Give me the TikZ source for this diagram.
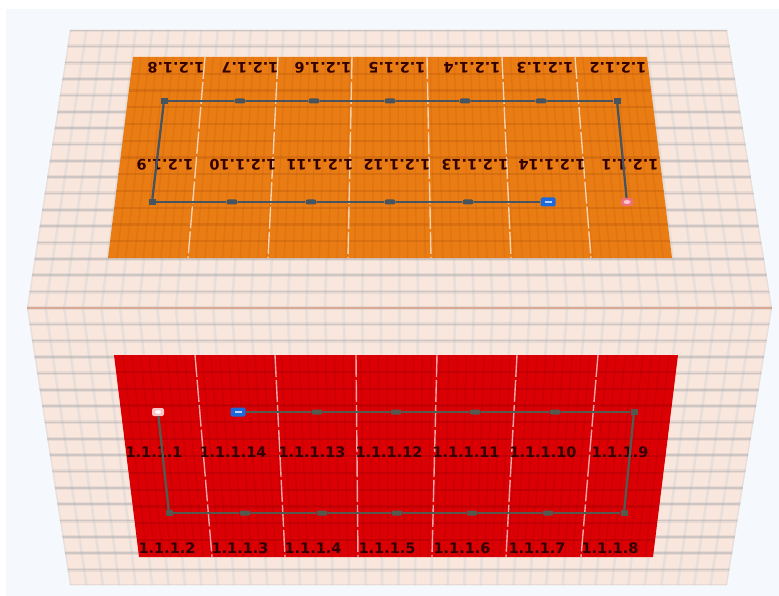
\documentclass[tikz,border=0pt]{standalone}
\usepackage{fontspec}
\setmainfont{DejaVu Sans}
\usepackage{tikz}
\usetikzlibrary{calc}
\definecolor{pagetint}{RGB}{245,249,253}
\definecolor{skin}{RGB}{249,231,222}
\definecolor{skinline}{RGB}{176,174,176}
\definecolor{skinrib}{RGB}{232,222,218}
\definecolor{seam}{RGB}{216,170,150}
\definecolor{panelo}{RGB}{234,124,20}
\definecolor{panelodark}{RGB}{190,92,12}
\definecolor{panelr}{RGB}{218,0,4}
\definecolor{panelrdark}{RGB}{150,0,4}
\definecolor{routeo}{RGB}{70,84,96}
\definecolor{router}{RGB}{84,90,80}
\definecolor{endblue}{RGB}{26,106,222}
\definecolor{endpink}{RGB}{240,110,120}
\tikzset{
  wpoint/.style={fill=#1, inner sep=0pt, minimum width=11pt, minimum height=5pt, rounded corners=2pt},
  wcorner/.style={fill=#1, inner sep=0pt, minimum width=7pt, minimum height=6pt},
  wend/.style={fill=endblue, inner sep=0pt, minimum width=15pt, minimum height=9pt, rounded corners=1.5pt},
  wstart/.style={fill=#1, inner sep=0pt, minimum width=12pt, minimum height=8pt, rounded corners=2pt},
  wlabel/.style={font=\fontsize{14.5}{16}\selectfont\bfseries, text=black!80!red, inner sep=0pt, text height=10.5pt, text depth=0pt}
}

\begin{document}
\begin{tikzpicture}[x=1pt,y=-1pt]
\useasboundingbox (0,0) rectangle (779,596);
\fill[white] (0,0) rectangle (779,596);
\fill[pagetint] (6,9) rectangle (779,596);

\begin{scope}
\clip (70,30) -- (727,30) -- (772,308) -- (727,585) -- (70,585) -- (27,308) -- cycle;
\fill[skin] (0,0) rectangle (779,596);
\foreach \i in {0,...,40}
  \draw[skinrib, line width=2.6pt] ({70+\i*16.425},30) -- ({27+\i*18.625},308) -- ({70+\i*16.425},585);
\foreach \j in {0,...,34} {
  \draw[skinline, line width=4pt, opacity=0.22] (0,{30+\j*16.35}) -- (779,{30+\j*16.35});
  \draw[skinline, line width=1.6pt, opacity=0.45] (0,{30+\j*16.35}) -- (779,{30+\j*16.35});
}
\draw[seam, line width=1.2pt] (0,308) -- (779,308);
\end{scope}

\coordinate (otl) at (133,57);
\coordinate (otr) at (647,57);
\coordinate (obl) at (108,258);
\coordinate (obr) at (672,258);
\fill[panelo] (otl) -- (otr) -- (obr) -- (obl) -- cycle;
\foreach \i in {1,...,63} {
  \pgfmathsetmacro\t{\i/64}
  \draw[panelodark, line width=1.4pt, opacity=0.22] ($(otl)!\t!(otr)$) -- ($(obl)!\t!(obr)$);
}
\foreach \j in {1,...,11} {
  \pgfmathsetmacro\t{\j/12}
  \draw[panelodark, line width=2.4pt, opacity=0.4] ($(otl)!\t!(obl)$) -- ($(otr)!\t!(obr)$);
}
\foreach \a/\b in {205/188,278/268,352/348,427/431,502/511,575/591}
  \draw[white!65!panelo, line width=1.4pt, dash pattern=on 22pt off 3pt] (\a,57) -- (\b,258);

\coordinate (rtl) at (114,355);
\coordinate (rtr) at (678,355);
\coordinate (rbl) at (139,557);
\coordinate (rbr) at (653,557);
\fill[panelr] (rtl) -- (rtr) -- (rbr) -- (rbl) -- cycle;
\foreach \i in {1,...,63} {
  \pgfmathsetmacro\t{\i/64}
  \draw[panelrdark, line width=1.4pt, opacity=0.2] ($(rtl)!\t!(rtr)$) -- ($(rbl)!\t!(rbr)$);
}
\foreach \j in {1,...,11} {
  \pgfmathsetmacro\t{\j/12}
  \draw[panelrdark, line width=2.2pt, opacity=0.3] ($(rtl)!\t!(rbl)$) -- ($(rtr)!\t!(rbr)$);
}
\foreach \a/\b in {195/212,275/285,356/358,437/432,517/506,598/581}
  \draw[white!65!panelr, line width=1.4pt, dash pattern=on 22pt off 3pt] (\a,355) -- (\b,557);

\foreach \x/\txt in {176/1.2.1.8,250/1.2.1.7,323/1.2.1.6,397/1.2.1.5,472/1.2.1.4,545/1.2.1.3,618/1.2.1.2}
  \node[wlabel, rotate=180] (lbl\txt) at (\x,68) {\txt};
\foreach \x/\txt in {165/1.2.1.9,243/1.2.1.10,320/1.2.1.11,397/1.2.1.12,475/1.2.1.13,552/1.2.1.14,630/1.2.1.1}
  \node[wlabel, rotate=180] (lbl\txt) at (\x,165) {\txt};
\foreach \x/\txt in {154/1.1.1.1,233/1.1.1.14,312/1.1.1.13,389/1.1.1.12,466/1.1.1.11,543/1.1.1.10,620/1.1.1.9}
  \node[wlabel] (lbl\txt) at (\x,452) {\txt};
\foreach \x/\txt in {167/1.1.1.2,240/1.1.1.3,313/1.1.1.4,387/1.1.1.5,462/1.1.1.6,537/1.1.1.7,610/1.1.1.8}
  \node[wlabel] (lbl\txt) at (\x,548) {\txt};

\node[wstart=endpink] (o0) at (627,202) {};
\node[wcorner=routeo] (o1) at (617,101) {};
\foreach \n/\x in {2/541,3/465,4/390,5/314,6/240}
  \node[wpoint=routeo] (o\n) at (\x,101) {};
\node[wcorner=routeo] (o7) at (164,101) {};
\node[wcorner=routeo] (o8) at (152,202) {};
\foreach \n/\x in {9/232,10/311,11/390,12/468}
  \node[wpoint=routeo] (o\n) at (\x,202) {};
\node[wend] (o13) at (548,202) {};
\foreach \n [remember=\n as \p (initially 0)] in {1,...,13}
  \draw[routeo, line width=2.3pt] (o\p) -- (o\n);
\fill[white!60!endpink] (o0.center) ellipse (3.5pt and 2pt);
\draw[white!70!endblue, line width=1.2pt] ($(o13.center)+(-3.5,0)$) -- ($(o13.center)+(3.5,0)$);

\node[wstart=white!60!endpink] (r0) at (158,412) {};
\node[wcorner=router] (r1) at (169,513) {};
\foreach \n/\x in {2/245,3/322,4/397,5/472,6/548}
  \node[wpoint=router] (r\n) at (\x,513) {};
\node[wcorner=router] (r7) at (624,513) {};
\node[wcorner=router] (r8) at (634,412) {};
\foreach \n/\x in {9/555,10/475,11/396,12/317}
  \node[wpoint=router] (r\n) at (\x,412) {};
\node[wend] (r13) at (238,412) {};
\foreach \n [remember=\n as \p (initially 0)] in {1,...,13}
  \draw[router, line width=2.3pt] (r\p) -- (r\n);
\fill[white] (r0.center) ellipse (3pt and 1.8pt);
\draw[white!70!endblue, line width=1.2pt] ($(r13.center)+(-3.5,0)$) -- ($(r13.center)+(3.5,0)$);
\end{tikzpicture}
\end{document}
